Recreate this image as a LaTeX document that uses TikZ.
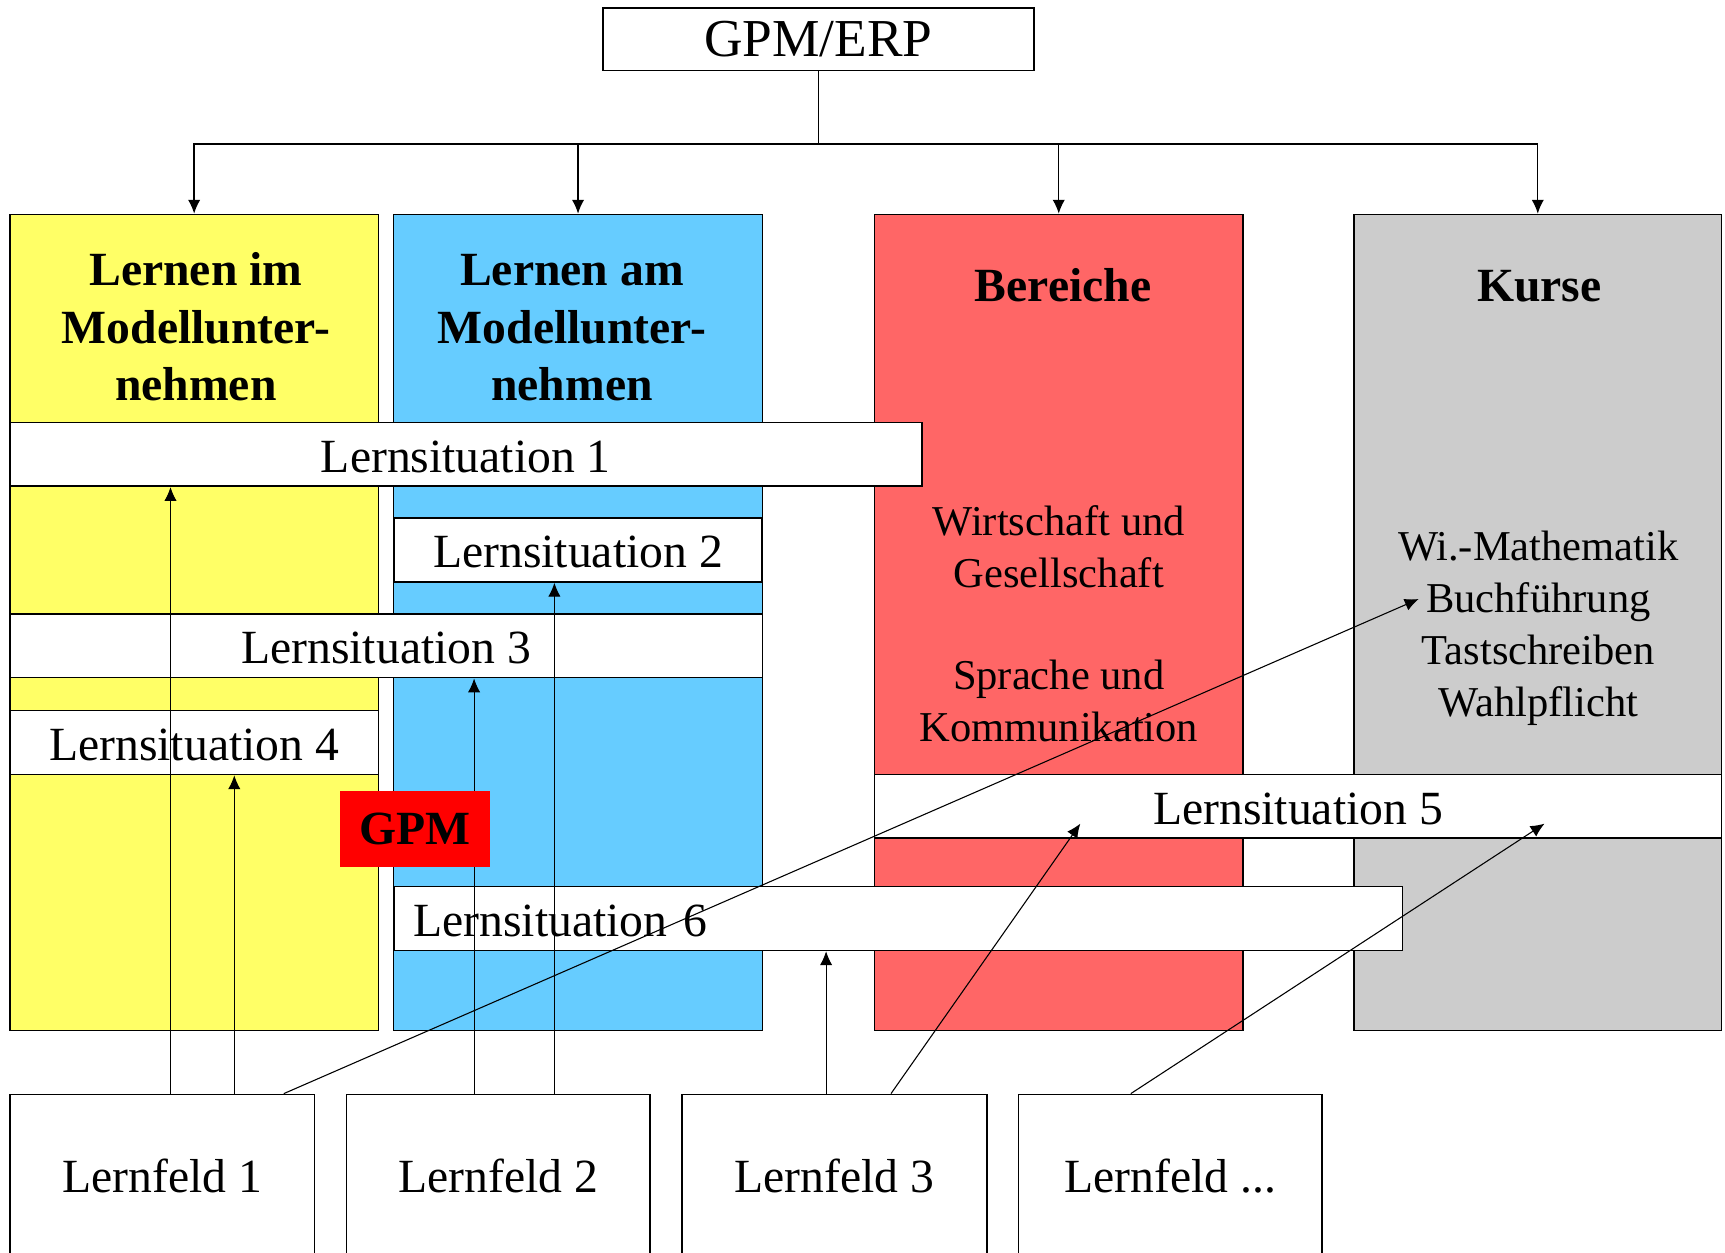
\documentclass[tikz,border=0pt]{standalone}
\usepackage{fontspec}
\setmainfont{Liberation Serif}
\usetikzlibrary{arrows.meta,calc}
\definecolor{cyellow}{HTML}{FFFF66}
\definecolor{cblue}{HTML}{66CCFF}
\definecolor{cred}{HTML}{FF6666}
\definecolor{cgray}{HTML}{CCCCCC}
\definecolor{gpmred}{HTML}{FF0000}
\begin{document}
\begin{tikzpicture}[x=0.025cm,y=-0.025cm,
  col/.style={draw=black, line width=0.9pt, minimum width=8.375cm, minimum height=18.55cm, inner sep=0pt},
  lsbox/.style={draw=black, line width=1.1pt, fill=white, minimum height=1.45cm, inner sep=0pt, text height=23.2pt, text depth=0pt, font=\fontsize{30.8}{36}\selectfont},
  lfbox/.style={draw=black, line width=1.1pt, fill=white, minimum width=6.9cm, minimum height=3.7cm, inner sep=0pt, font=\fontsize{30.8}{36}\selectfont},
  head/.style={anchor=base, inner sep=0pt, font=\fontsize{30.8}{36}\selectfont\bfseries},
  sub/.style={anchor=base, inner sep=0pt, font=\fontsize{27.5}{33}\selectfont},
  arr/.style={line width=0.7pt, -{Latex[length=9pt,width=8pt]}},
  toparr/.style={line width=0.9pt, -{Latex[length=9pt,width=8pt]}},
]
\useasboundingbox (0,0) rectangle (1568.2,1138.2);

% columns
\node[col, fill=cyellow] (c1) at (176.5,566) {};
\node[col, fill=cblue] (c2) at (525.5,566) {};
\node[col, fill=cred] (c3) at (962.5,566) {};
\node[col, fill=cgray, minimum width=8.35cm] (c4) at (1398,566) {};

% headers
\node[head] (h1a) at (178,260) {Lernen im};
\node[head] (h1b) at (178,312) {Modellunter-};
\node[head] (h1c) at (178,364.3) {nehmen};
\node[head] (h2a) at (520,260) {Lernen am};
\node[head] (h2b) at (520,312) {Modellunter-};
\node[head] (h2c) at (520,364.3) {nehmen};
\node[head] (h3) at (966.5,274) {Bereiche};
\node[head] (h4) at (1399.5,274) {Kurse};

% red column text
\node[sub] (ra) at (962.5,487) {Wirtschaft und};
\node[sub] (rb) at (962.5,534) {Gesellschaft};
\node[sub] (rc) at (962.5,627) {Sprache und};
\node[sub] (rd) at (962.5,674) {Kommunikation};

% gray column text
\node[sub] (ka) at (1398.5,510) {Wi.-Mathematik};
\node[sub] (kb) at (1398.5,557) {Buchführung};
\node[sub] (kc) at (1398.5,604) {Tastschreiben};
\node[sub] (kd) at (1398.5,651) {Wahlpflicht};

% top box
\node[draw=black, line width=1.1pt, fill=white, minimum width=9.8cm, minimum height=1.425cm, inner sep=0pt, font=\fontsize{34.5}{40}\selectfont] (gpm) at (744,35.5) {GPM/ERP};
\draw[line width=0.9pt] (gpm.south) -- ++(0,66) coordinate (hub);
\draw[toparr] (hub) -| (c1.north);
\draw[toparr] (hub) -| (c2.north);
\draw[toparr] (hub) -| (c3.north);
\draw[toparr] (hub) -| (c4.north);

% Lernsituationen
\node[lsbox, minimum width=20.725cm] (ls1) at (423.5,413) {Lernsituation 1};
\node[lsbox, minimum width=8.375cm] (ls2) at (525.5,500) {Lernsituation 2};
\node[lsbox, minimum width=17.1cm] (ls3) at (351,587) {Lernsituation 3};
\node[lsbox, minimum width=8.375cm] (ls4) at (176.5,675) {Lernsituation 4};
\node[lsbox, minimum width=19.25cm] (ls5) at (1180,733) {Lernsituation 5};
\node[lsbox, minimum width=22.925cm, text width=22.025cm, inner xsep=0.45cm, align=left] (ls6) at (816.5,835) {Lernsituation 6};

% Lernfelder
\node[lfbox, minimum width=6.925cm] (lf1) at (147.5,1069) {Lernfeld 1};
\node[lfbox] (lf2) at (453,1069) {Lernfeld 2};
\node[lfbox, minimum width=6.925cm] (lf3) at (758.5,1069) {Lernfeld 3};
\node[lfbox] (lf4) at (1064,1069) {Lernfeld ...};

% arrows
\draw[arr] ($(lf1.north)+(7.5,0)$) coordinate (p1) -- (p1 |- ls1.south);
\draw[arr] ($(lf1.north)+(65.5,0)$) coordinate (p2) -- (p2 |- ls4.south);
\draw[arr] ($(lf2.north)+(-22,0)$) coordinate (p3) -- (p3 |- ls3.south);
\draw[arr] ($(lf2.north)+(51,0)$) coordinate (p4) -- (p4 |- ls2.south);
\draw[arr] ($(lf3.north)+(-7.5,0)$) coordinate (p5) -- (p5 |- ls6.south);
\draw[arr] ($(lf1.north)+(110.5,0)$) -- ($(kb.west)+(-6.5,-3)$);
\draw[arr] ($(lf3.north)+(51.5,0)$) -- ($(ls5.south west)+(188,-14)$);
\draw[arr] ($(lf4.north)+(-36,0)$) -- ($(ls5.south west)+(610,-14)$);

% GPM label
\node[fill=gpmred, minimum width=3.4cm, minimum height=1.725cm, inner sep=0pt, font=\fontsize{30.8}{36}\selectfont\bfseries] (gpmlabel) at (377,753.5) {GPM};
\end{tikzpicture}
\end{document}
